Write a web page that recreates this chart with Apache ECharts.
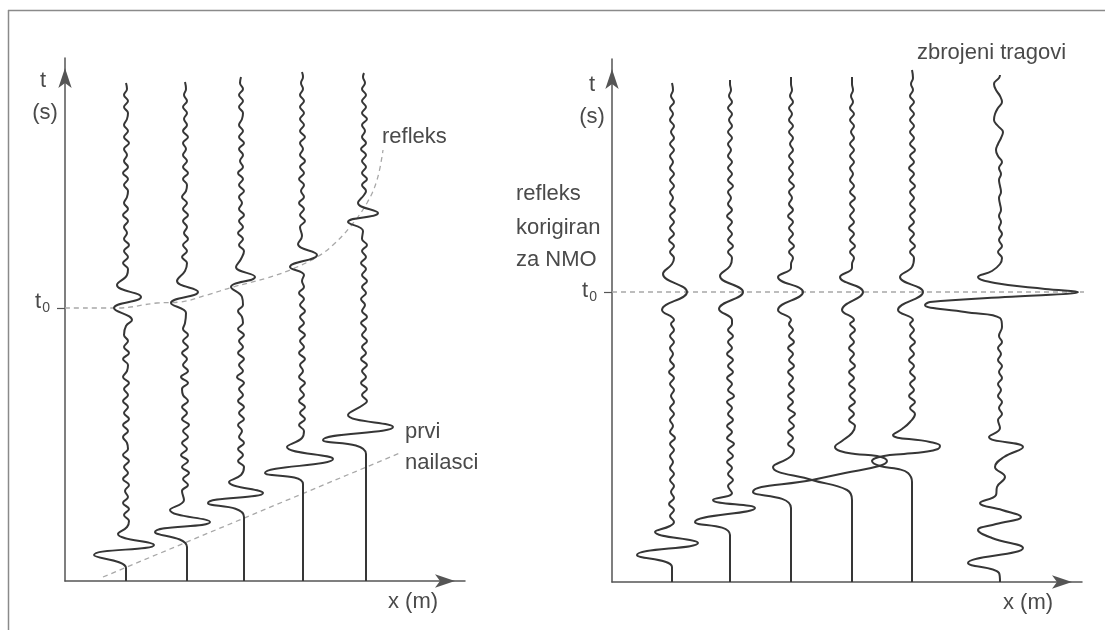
<!DOCTYPE html>
<html><head><meta charset="utf-8">
<script src="https://cdn.jsdelivr.net/npm/echarts@6/dist/echarts.min.js"></script>
<style>html,body{margin:0;padding:0;background:#fff}#c{width:1105px;height:630px}</style>
</head><body><div id="c"></div>
<script>
// ---------- data ----------
const STEP = 6;                 // noise sample spacing in t
const T0_LEFT = 273, T0_RIGHT = 290;

// Left panel (before NMO)
const L1_center = 61,  L1_top = 498;
const L1_first = [[0,0],[13,0],[26,-32],[36,28],[47,-8],[54,1]];
const L1_refl  = [[255,0],[261,6],[273,-12],[284,15],[296,-9],[306,1]];
const L1_noise = [0,0,0,0,0,0,0,0,0,0, 3,-2,3,-3,2,-1,3,-3,2,-2, 3,-3,2,1,-3,2,-3,3,-2,2, -3,2,-2,3,-3,1,2,-3,3,-2, 2,-2,0,0,0,0,0,0,0,0, 0,0,2,-3,2,-2,3,-2,1,-2, 2,-3,2,-2,1,2,-2,2,-3,2, -2,1,-2,3,-2,2,-2,1,2,-2, 2,-2,1,-1,0,0];

const L2_center = 120, L2_top = 499;
const L2_first = [[0,2],[34,2],[49,-30],[59,25],[71,-15],[81,-1]];
const L2_refl  = [[258,0],[268,1],[278,-14],[289,13],[300,-8],[310,0]];
const L2_noise = [0,0,0,0,0,0,0,0,0,0, 0,0,0,0,0,-3,3,-2,4,-3, 3,-4,2,-3,3,-2,4,-3,2,-3, 3,-2,-3,3,-4,3,-2,2,-3,3, -2,3,-2,0,0,0,0,0,0,0, 0,0,0,2,-3,2,-2,3,-1,2, -2,3,-2,2,-3,1,2,-2,3,-2, 2,-2,1,-2,3,-2,2,-1,2,-2, 2,-1,1,0,0,0];

const L3_center = 176, L3_top = 504;
const L3_first = [[0,3],[64,3],[78,-33],[88,22],[99,-12],[106,0]];
const L3_refl  = [[284,1],[294,-10],[304,14],[314,-5],[322,0]];
const L3_noise = [0,0,0,0,0,0,0,0,0,0, 0,0,0,0,0,0,0,0,0,3, -3,2,-3,3,-2,1,-3,3,-2,3, -3,2,-2,3,-4,2,-2,3,-3,2, -2,3,-3,2,1,-3,2,0,0,0, 0,0,0,0,0,3,-2,2,-3,2, -2,3,-2,1,-2,3,-2,2,-3,2, -1,2,-2,3,-2,2,-2,1,2,-2, 2,-2,2,-1,0,0];

const L4_center = 237, L4_top = 509;
const L4_first = [[0,1],[97,1],[108,-37],[122,31],[134,-15],[143,0]];
const L4_refl  = [[300,0],[306,2],[314,-12],[326,15],[337,-4],[345,0]];
const L4_noise = [0,0,0,0,0,0,0,0,0,0, 0,0,0,0,0,0,0,0,0,0, 0,0,0,0,0,2,-3,3,-2,3, -3,2,-2,3,-3,1,-2,3,-3,2, -2,3,-3,2,-2,3,-2,2,-3,2, 0,0,0,0,0,0,0,0,0,-2, 3,-2,2,-3,2,-1,2,-3,2,-2, 3,-2,1,-2,3,-2,2,-2,2,-2, 2,-2,1,-1,1,0];

const L5_center = 299, L5_top = 508;
const L5_first = [[0,2],[127,2],[141,-41],[154,29],[166,-16],[176,-1]];
const L5_refl  = [[350,-1],[359,-16],[368,14],[378,-6],[386,0]];
const L5_noise = [0,0,0,0,0,0,0,0,0,0, 0,0,0,0,0,0,0,0,0,0, 0,0,0,0,0,0,0,0,0,0, 3,-2,3,-3,2,-2,3,-3,2,-2, 3,-2,2,-3,3,-2,1,-3,2,-2, 3,-2,2,-3,2,-2,3,-2,0,0, 0,0,0,0,0,2,-2,3,-2,2, -2,2,-3,2,-2,1,-2,3,-2,2, -2,2,-2,1,-1,0];

// reflection hyperbola and first-arrival line (left panel)
const REFL_X = [0,52,92,115,142,168,202,225,252,268,285,302,312,318];
const REFL_T = [273,273,278,279,286,294,303,311,324,336,354,378,401,431];
const PRVI_X = [38,335];
const PRVI_T = [4,128];

// Right panel (after NMO correction)
const R1_center = 60,  R1_top = 499;
const R1_first = [[0,0],[15,0],[27,-35],[39,26],[50,-17],[56,-2]];
const R1_refl  = [[262,2],[272,-10],[290,15],[308,-9],[318,0]];
const R1_noise = [0,0,0,0,0,0,0,0,0,0, 2,-2,2,-3,2,-1,2,-2,2,-2, 1,-2,2,-2,3,-2,1,-2,2,-2, 2,-1,2,-2,2,-3,2,-2,1,-2, 2,-2,2,-1,0,0,0,0,0,0, 0,0,0,0,2,-2,2,-3,2,-2, 2,-2,3,-2,1,-2,2,-2,2,-2, 1,-2,2,-2,2,-1,2,-2,1,-2, 2,-1,1,0,0,0];

const R2_center = 118, R2_top = 502;
const R2_first = [[0,0],[47,0],[60,-35],[74,25],[82,-17],[89,2]];
const R2_refl  = [[262,2],[273,-11],[290,13],[306,-10],[316,0]];
const R2_noise = [0,0,0,0,0,0,0,0,0,0, 0,0,0,0,0,0,-2,3,-2,2, -3,3,-2,4,-3,2,-3,3,-2,2, -3,4,-2,2,-3,3,-2,3,-3,2, -2,3,-2,2,0,0,0,0,0,0, 0,0,0,0,2,-2,3,-2,2,-2, 2,-3,2,-2,1,-2,3,-2,2,-2, 2,-2,1,-2,2,-2,2,-1,2,-2, 2,-1,1,0,0,0];

const R3_center = 179, R3_top = 505;
const R3_first = [[0,61],[82,61],[92,56],[102,21],[115,-18],[125,-1]];
const R3_refl  = [[262,0],[272,-13],[290,12],[305,-13],[314,0]];
const R3_noise = [0,0,0,0,0,0,0,0,0,0, 0,0,0,0,0,0,0,0,0,0, 0,0,3,-3,2,-3,3,-2,4,-3, 2,-3,3,-2,2,-3,3,-2,2,-3, 3,-2,2,-2,0,0,0,0,0,0, 0,0,0,0,2,-2,3,-2,2,-2, 2,-3,2,-2,1,-2,3,-2,2,-2, 2,-2,2,-1,2,-2,2,-2,1,-2, 2,-1,1,0,0,0];

const R4_center = 240, R4_top = 505;
const R4_first = [[0,-61],[74,-61],[90,-99],[102,-40],[109,-7],[116,27],[121,35],[126,25],[128,3],[131,-12],[135,-17],[141,-10],[149,0]];
const R4_refl  = [[262,2],[272,-10],[290,11],[305,-12],[314,0]];
const R4_noise = [0,0,0,0,0,0,0,0,0,0, 0,0,0,0,0,0,0,0,0,0, 0,0,0,0,0,0,3,-3,2,-3, 3,-2,3,-3,2,-3,3,-2,2,-3, 2,-2,3,-2,0,0,0,0,0,0, 0,0,0,0,2,-2,3,-2,2,-3, 2,-2,2,-2,3,-2,2,-2,1,-2, 2,-2,2,-2,2,-1,2,-2,2,-2, 1,-1,1,0,0,0];

const R5_center = 300, R5_top = 512;
const R5_first = [[0,0],[100,0],[109,-4],[113,-14],[116,-32],[121,-40],[126,-28],[128,-8],[130,12],[133,26],[136,28],[140,18],[147,-19],[153,-10],[160,-2]];
const R5_refl  = [[262,1],[272,-14],[290,11],[305,-12],[315,0]];
const R5_noise = [0,0,0,0,0,0,0,0,0,0, 0,0,0,0,0,0,0,0,0,0, 0,0,0,0,0,0,0,0,3,-2, 3,-3,2,-2,3,-2,2,-3,2,-2, 3,-2,2,-2,0,0,0,0,0,0, 0,0,0,0,2,-2,3,-2,2,-3, 2,-2,3,-2,2,-2,3,-2,2,-3, 2,-2,3,-2,2,-2,2,-2,2,-2, 2,-2,1,-1,1,0];

// stacked trace (zbrojeni tragovi)
const S_center = 388, S_top = 507;
const S_first = [[0,0],[9,-1],[19,-32],[34,23],[44,-8],[52,-22],[58,-4],[65,21],[72,2],[79,-20],[87,-4],[95,-3],[105,5],[115,-5],[125,4],[135,23],[145,-11],[154,0]];
const S_refl  = [[255,2],[264,0],[270,-35],[277,-75],[280,-70],[285,5],[290,78],[293,45],[299,-5],[305,-22],[311,-8],[318,0]];
const S_noise = [0,0,0,0,0,0,0,0,0,0, 0,0,0,0,0,0,0,0,0,0, 0,0,0,0,0,0,2,-2,2,-1, 2,-2,1,-2,2,-1,2,-2,1,-2, 2,-1,0,0,0,0,0,0,0,0, 0,0,0,0,2,-2,2,-1,2,-1, 1,-1,1,0,-1,1,0,-1,1,-1, 2,-2,-4,-2,1,3,-2,-6,-5,-2, 2,0,-4,-6,-1,0];

// ---------- build ----------
function buildTrace(center, top, noise, events) {
  const pts = [];
  events.forEach(ev => ev.forEach(p => pts.push(p)));
  noise.forEach((dx, i) => {
    const t = i * STEP;
    if (t > top - 3) return;
    for (const ev of events) {
      if (t >= ev[0][0] - 3 && t <= ev[ev.length - 1][0] + 3) return;
    }
    pts.push([t, dx]);
  });
  pts.push([top, 0]);
  pts.sort((a, b) => a[0] - b[0]);
  return pts.map(p => [center + p[1], p[0]]);
}

const leftTraces = [
  [L1_center, L1_top, L1_noise, [L1_first, L1_refl]],
  [L2_center, L2_top, L2_noise, [L2_first, L2_refl]],
  [L3_center, L3_top, L3_noise, [L3_first, L3_refl]],
  [L4_center, L4_top, L4_noise, [L4_first, L4_refl]],
  [L5_center, L5_top, L5_noise, [L5_first, L5_refl]]
];
const rightTraces = [
  [R1_center, R1_top, R1_noise, [R1_first, R1_refl]],
  [R2_center, R2_top, R2_noise, [R2_first, R2_refl]],
  [R3_center, R3_top, R3_noise, [R3_first, R3_refl]],
  [R4_center, R4_top, R4_noise, [R4_first, R4_refl]],
  [R5_center, R5_top, R5_noise, [R5_first, R5_refl]],
  [S_center, S_top, S_noise, [S_first, S_refl]]
];

const INK = '#363636';
const AXIS = '#555';
const DASH = '#a8a8a8';
const FONT = "'Liberation Sans', Arial, sans-serif";
const TXT = '#4a4a4a';

function traceSeries(tr, gi) {
  return {
    type: 'line', xAxisIndex: gi, yAxisIndex: gi,
    data: buildTrace(tr[0], tr[1], tr[2], tr[3]),
    smooth: 0.45, symbol: 'none', silent: true,
    lineStyle: { color: INK, width: 2 }, z: 3
  };
}

function makeX(gi, max) {
  return {
    gridIndex: gi, type: 'value', min: 0, max: max,
    axisLine: { show: true, onZero: false, symbol: ['none', 'arrow'], symbolSize: [10, 20], symbolOffset: [0, -10],
      lineStyle: { color: AXIS, width: 1.5 } },
    axisTick: { show: false }, axisLabel: { show: false }, splitLine: { show: false }
  };
}
function makeY(gi, t0, labelPad) {
  return {
    gridIndex: gi, type: 'value', min: 0, max: 523,
    axisLine: { show: true, onZero: false, symbol: ['none', 'arrow'], symbolSize: [10, 20], symbolOffset: [0, -10],
      lineStyle: { color: AXIS, width: 1.5 } },
    axisTick: { show: true, customValues: [t0], length: 8, inside: false, lineStyle: { color: AXIS, width: 1.2 } },
    axisLabel: {
      show: true, customValues: [t0], margin: 15, padding: labelPad,
      formatter: () => '{a|t}{b|0}',
      rich: {
        a: { fontSize: 22, fontFamily: FONT, color: TXT },
        b: { fontSize: 14, fontFamily: FONT, color: TXT, padding: [12, 0, 0, 1] }
      }
    },
    splitLine: { show: false }
  };
}

const series = [];
leftTraces.forEach(tr => series.push(traceSeries(tr, 0)));
rightTraces.forEach(tr => series.push(traceSeries(tr, 1)));

// reflection hyperbola (dashed)
series.push({
  type: 'line', xAxisIndex: 0, yAxisIndex: 0, smooth: 0.4, symbol: 'none', silent: true, z: 2,
  data: REFL_X.map((x, i) => [x, REFL_T[i]]),
  lineStyle: { color: DASH, width: 1.3, type: [5, 4] }
});
// first arrivals line (dashed)
series.push({
  type: 'line', xAxisIndex: 0, yAxisIndex: 0, symbol: 'none', silent: true, z: 2,
  data: PRVI_X.map((x, i) => [x, PRVI_T[i]]),
  lineStyle: { color: DASH, width: 1.3, type: [5, 4] }
});
// t0 line right panel (dashed)
series.push({
  type: 'line', xAxisIndex: 1, yAxisIndex: 1, symbol: 'none', silent: true, z: 2, clip: false,
  data: [[0, T0_RIGHT], [478, T0_RIGHT]],
  lineStyle: { color: DASH, width: 1.3, type: [5, 4] }
});

function txt(x, y, s, align) {
  return { type: 'text', x: x, y: y, silent: true,
    style: { text: s, font: '22px ' + FONT, fill: TXT, textAlign: align || 'left', textVerticalAlign: 'middle' } };
}

const option = {
  animation: false,
  backgroundColor: '#fff',
  grid: [
    { left: 65, top: 58, width: 400, height: 523, containLabel: false },
    { left: 612, top: 59, width: 470, height: 523, containLabel: false }
  ],
  xAxis: [makeX(0, 400), makeX(1, 470)],
  yAxis: [makeY(0, T0_LEFT, [0, 0, 12, 0]), makeY(1, T0_RIGHT, [0, 0, 2, 0])],
  series: series,
  graphic: [
    { type: 'line', silent: true, shape: { x1: 8.5, y1: 10, x2: 8.5, y2: 630 }, style: { stroke: '#8a8a8a', lineWidth: 1.5 } },
    { type: 'line', silent: true, shape: { x1: 8, y1: 10.5, x2: 1105, y2: 10.5 }, style: { stroke: '#8a8a8a', lineWidth: 1.5 } },
    txt(43, 81, 't', 'center'),
    txt(45, 113, '(s)', 'center'),
    txt(592, 85, 't', 'center'),
    txt(592, 117, '(s)', 'center'),
    txt(382, 137, 'refleks'),
    txt(405, 432, 'prvi'),
    txt(405, 463, 'nailasci'),
    txt(388, 602, 'x (m)'),
    txt(1003, 603, 'x (m)'),
    txt(917, 53, 'zbrojeni tragovi'),
    txt(516, 194, 'refleks'),
    txt(516, 228, 'korigiran'),
    txt(516, 260, 'za NMO')
  ]
};

const chart = echarts.init(document.getElementById('c'), null, { renderer: 'canvas' });
chart.setOption(option);
</script></body></html>
